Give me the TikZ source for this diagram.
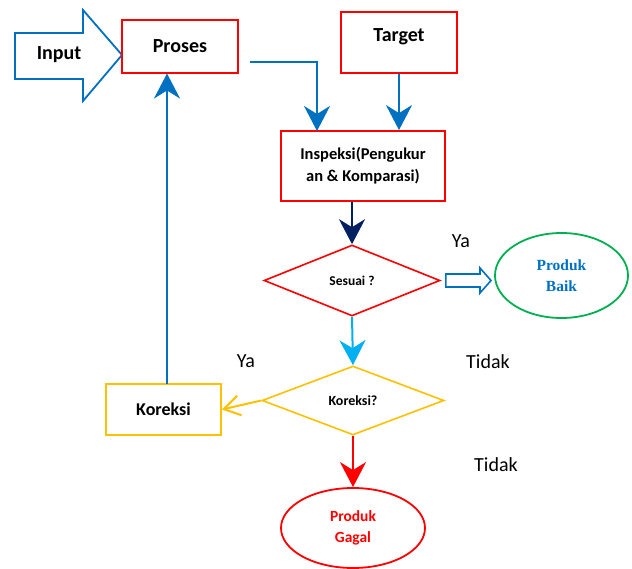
\documentclass[tikz,border=0pt]{standalone}
\usepackage{fontspec}
\setmainfont{Carlito}
\newfontfamily\timesb{Liberation Serif}
\usetikzlibrary{arrows.meta,shapes.geometric}
\definecolor{cblue}{RGB}{0,112,192}
\definecolor{cred}{RGB}{255,0,0}
\definecolor{cnavy}{RGB}{0,32,96}
\definecolor{clight}{RGB}{0,176,240}
\definecolor{corange}{RGB}{255,192,0}
\definecolor{cgreen}{RGB}{0,176,80}
\tikzset{
  box/.style={draw, line width=1.8pt, inner sep=0pt, minimum width=#1},
  dia/.style={diamond, draw, line width=1.6pt, inner sep=0pt},
  ell/.style={ellipse, draw, line width=1.8pt, inner sep=0pt},
  bigtip/.style={-{Stealth[length=25pt,width=26pt,inset=8pt]}},
  conn/.style={line width=2pt},
  lbl/.style={font=\fontsize{20}{24}\selectfont},
}
\begin{document}
\begin{tikzpicture}[x=1pt,y=-1pt]
\useasboundingbox (0,0) rectangle (632,569);
% Input block arrow
\draw[cblue, line width=1.8pt] (15,33) -- (83,33) -- (83,10) -- (122,55) -- (83,101) -- (83,79) -- (15,79) -- cycle;
\node[font=\fontsize{20}{24}\selectfont\bfseries] (input) at (59,55) {Input};
% Proses
\node[box=116pt, draw=cred, minimum height=53pt, font=\fontsize{20}{24}\selectfont\bfseries] (proses) at (180,46.5) {Proses};
% Target
\node[box=116pt, draw=cred, minimum height=61pt] (target) at (399,42.5) {};
\node[font=\fontsize{20}{24}\selectfont\bfseries] (targett) at ([yshift=6pt]target.center) {Target};
% Inspeksi
\node[box=164pt, draw=cred, minimum height=70pt, align=center, font=\fontsize{16.5}{22}\selectfont\bfseries] (insp) at (363,166) {Inspeksi(Pengukur\\an \& Komparasi)};
% Sesuai
\node[dia, draw=cred, minimum width=176pt, minimum height=71pt, aspect=2.48, font=\fontsize{13.5}{16}\selectfont\bfseries] (ses) at (352,280.5) {Sesuai ?};
% Produk Baik
\node[ell, draw=cgreen, minimum width=133pt, minimum height=85pt, align=center, text=cblue, font=\fontsize{15.5}{21}\selectfont\timesb\bfseries] (baik) at (561.5,275.5) {Produk\\Baik};
% Koreksi diamond
\node[dia, draw=corange, minimum width=182pt, minimum height=69pt, aspect=2.64, font=\fontsize{14}{16}\selectfont\bfseries] (kord) at (353,400.5) {Koreksi?};
% Koreksi box
\node[box=115pt, draw=corange, minimum height=51pt, font=\fontsize{18}{22}\selectfont\bfseries] (kor) at (163.5,409.5) {Koreksi};
% Produk Gagal
\node[ell, draw=cred, minimum width=144pt, minimum height=80pt, align=center, text=cred, font=\fontsize{15.5}{21}\selectfont\bfseries] (gagal) at (353,528) {Produk\\Gagal};

% connectors
\coordinate (p1) at ([xshift=11pt]proses.east |- 0,62);
\draw[conn, cblue, bigtip] (p1) -- (317,62) -- (317,131);
\draw[conn, cblue, bigtip] (target.south) -- (target.south |- insp.north);
\draw[conn, cnavy, bigtip] (ses.north |- insp.south) -- (ses.north);
\draw[conn, clight, bigtip] (ses.south) -- (kord.north);
\draw[conn, corange, -{Straight Barb[length=16pt,width=20pt,line width=2pt]}] (kord.west) -- (kor.east);
\draw[conn, cblue, bigtip] (167,384) -- (167,73.5);
\draw[conn, cred, bigtip] (kord.south) -- (gagal.north);
% hollow arrow Sesuai -> Baik
\draw[cblue, line width=1.6pt] ([xshift=5pt]ses.east |- 0,274) -- (480,274) -- (480,268) -- (491,280.5) -- (480,293) -- (480,287) -- ([xshift=5pt]ses.east |- 0,287) -- cycle;

% labels
\node[lbl] (ya1) at (461,241) {Ya};
\node[lbl] (ya2) at (246,361) {Ya};
\node[lbl] (t1) at (488,362) {Tidak};
\node[lbl] (t2) at (496,465) {Tidak};
\end{tikzpicture}
\end{document}
